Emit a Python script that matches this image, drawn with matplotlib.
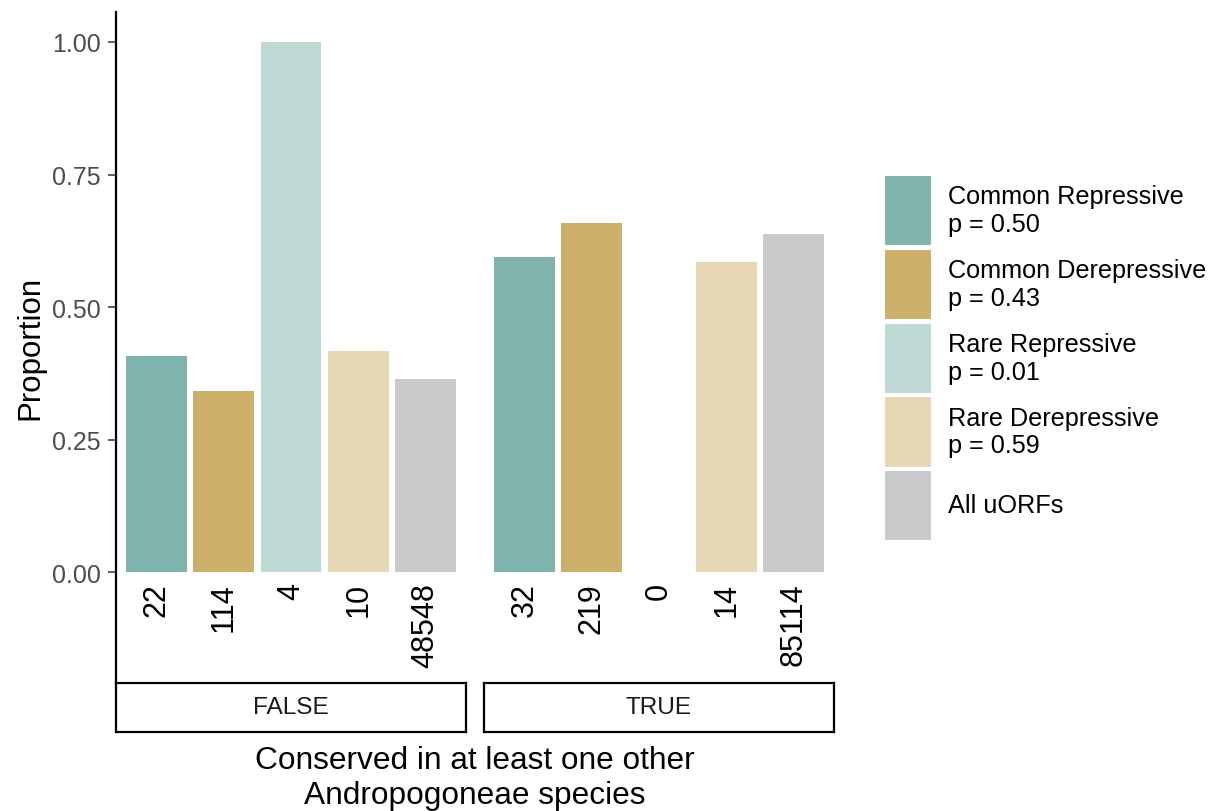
import matplotlib
matplotlib.use("Agg")
import matplotlib.pyplot as plt
from matplotlib.patches import Patch

plt.rcParams['font.family'] = ['Liberation Sans', 'DejaVu Sans']

# ---- data ----
groups = ["FALSE", "TRUE"]
categories = ["Common Repressive", "Common Derepressive", "Rare Repressive",
              "Rare Derepressive", "All uORFs"]
legend_labels = ["Common Repressive\np = 0.50", "Common Derepressive\np = 0.43",
                 "Rare Repressive\np = 0.01", "Rare Derepressive\np = 0.59",
                 "All uORFs"]
prop_false = [0.408, 0.342, 1.000, 0.417, 0.364]
prop_true = [0.594, 0.659, 0.0, 0.584, 0.637]
counts_false = [22, 114, 4, 10, 48548]
counts_true = [32, 219, 0, 14, 85114]
colors = ["#7FB3AB", "#CCB06A", "#BED8D4", "#E5D7B3", "#CACACA"]
yticks = [0.00, 0.25, 0.50, 0.75, 1.00]

W, H = 1216, 812
fig = plt.figure(figsize=(W / 100, H / 100), dpi=100)

def fx(px):
    return px / W

def fy(py):
    return 1 - py / H

panel_top, panel_bot = 13, 684
lefts = [116, 484]
pw = 350

props = [prop_false, prop_true]
counts = [counts_false, counts_true]
axes = []
for i, g in enumerate(groups):
    ax = fig.add_axes([fx(lefts[i]), fy(panel_bot), fx(pw), (panel_bot - panel_top) / H])
    xs = list(range(1, len(categories) + 1))
    ax.bar(xs, props[i], width=0.9, color=colors, linewidth=0)
    for x, c in zip(xs, counts[i]):
        ax.text(x, -0.019, str(c), rotation=90, ha='center', va='top',
                fontsize=22, color='black')
    ax.set_xlim(0.4, 5.6)
    ax.set_ylim(-0.2094, 1.0566)
    ax.set_xticks([])
    for s in ['top', 'right', 'bottom']:
        ax.spines[s].set_visible(False)
    if i == 0:
        ax.spines['left'].set_linewidth(1.6)
        ax.spines['left'].set_color('black')
        ax.set_yticks(yticks)
        ax.set_yticklabels([f"{v:.2f}" for v in yticks])
        ax.tick_params(axis='y', labelsize=18, labelcolor='#4D4D4D', color='#333333',
                       length=5.5, width=1.1, pad=5.5)
    else:
        ax.spines['left'].set_visible(False)
        ax.set_yticks([])
    ax.patch.set_alpha(0)
    axes.append(ax)

    # strip
    sax = fig.add_axes([fx(lefts[i]), fy(733), fx(pw), 49 / H])
    sax.set_xticks([]); sax.set_yticks([])
    for s in sax.spines.values():
        s.set_linewidth(1.6)
        s.set_color('black')
    sax.text(0.5, 0.5, g, ha='center', va='center', fontsize=17.6, color='#1A1A1A',
             transform=sax.transAxes)

fig.text(fx(30), fy(348), "Proportion", rotation=90, ha='center', va='center', fontsize=22.5)
fig.text(fx(475), fy(746), "Conserved in at least one other\nAndropogoneae species",
         ha='center', va='top', fontsize=22.8, linespacing=1.2)

handles = [Patch(facecolor=c, edgecolor='white', linewidth=0.8) for c in colors]
fs = 18.2
fs_px = fs * 100 / 72
leg = fig.legend(handles, legend_labels, loc='upper left',
                 bbox_to_anchor=(fx(884), fy(176)), frameon=False, fontsize=fs,
                 borderpad=0, borderaxespad=0,
                 handlelength=47 / fs_px, handleheight=69 / (0.7 * fs_px),
                 labelspacing=3.5 / fs_px, handletextpad=17 / fs_px)
try:
    for col in leg._legend_handle_box.get_children():
        for item in col.get_children():
            item.align = 'center'
except Exception:
    pass

fig.savefig("out.png", dpi=100)
